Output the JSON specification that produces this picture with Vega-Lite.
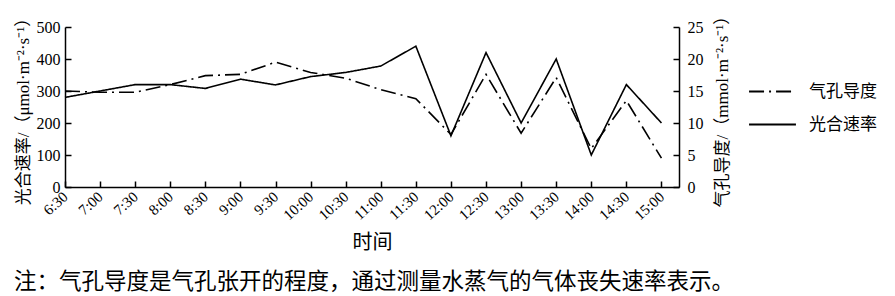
{
  "$schema": "https://vega.github.io/schema/vega-lite/v6.json",
  "width": 614,
  "height": 160,
  "autosize": "none",
  "padding": {"left": 65, "top": 27, "right": 216, "bottom": 109},
  "background": "white",
  "config": {
    "font": "Liberation Serif, Noto Sans CJK SC",
    "view": {"stroke": null},
    "axis": {"labelFont": "Liberation Serif", "titleFont": "Liberation Serif, Noto Sans CJK SC", "labelColor": "black", "titleColor": "black", "domainColor": "black", "tickColor": "black", "grid": false, "titleFontWeight": "normal", "domainWidth": 1.5, "tickWidth": 1.5}
  },
  "title": {"text": "注：气孔导度是气孔张开的程度，通过测量水蒸气的气体丧失速率表示。", "orient": "bottom", "anchor": "start", "frame": "bounds", "fontSize": 22.5, "fontWeight": "normal", "font": "Noto Sans CJK SC", "color": "black", "offset": 18},
  "data": {"values": [
    {"h": 6.5, "rate": 280, "cond": 15},
    {"h": 7, "rate": 300, "cond": 14.8},
    {"h": 7.5, "rate": 320, "cond": 14.8},
    {"h": 8, "rate": 320, "cond": 16},
    {"h": 8.5, "rate": 308, "cond": 17.4},
    {"h": 9, "rate": 337, "cond": 17.6},
    {"h": 9.5, "rate": 319, "cond": 19.5},
    {"h": 10, "rate": 345, "cond": 17.9},
    {"h": 10.5, "rate": 358, "cond": 17},
    {"h": 11, "rate": 378, "cond": 15.2},
    {"h": 11.5, "rate": 440, "cond": 13.8},
    {"h": 12, "rate": 160, "cond": 8.2},
    {"h": 12.5, "rate": 420, "cond": 17.6},
    {"h": 13, "rate": 200, "cond": 8.4},
    {"h": 13.5, "rate": 400, "cond": 17.1},
    {"h": 14, "rate": 100, "cond": 6},
    {"h": 14.5, "rate": 320, "cond": 13.5},
    {"h": 15, "rate": 200, "cond": 4.5}
  ]},
  "encoding": {
    "x": {"field": "h", "type": "quantitative", "scale": {"domain": [6.5, 15.25], "nice": false, "zero": false},
      "axis": {"title": "时间", "titleFontSize": 20, "titleFont": "Noto Sans CJK SC", "titlePadding": 10, "values": [6.5,7,7.5,8,8.5,9,9.5,10,10.5,11,11.5,12,12.5,13,13.5,14,14.5,15],
        "labelExpr": "floor(datum.value) + ':' + (datum.value % 1 ? '30' : '00')", "labelAngle": -42, "labelAlign": "right", "labelBaseline": "middle", "labelFontSize": 15, "labelDx": 6, "labelOverlap": false, "labelFlush": false, "labelBound": false, "tickSize": -6, "labelPadding": 13}}
  },
  "layer": [
    {
      "mark": {"type": "line", "color": "black", "strokeWidth": 1.6},
      "encoding": {
        "y": {"field": "rate", "type": "quantitative", "scale": {"domain": [0, 500]},
          "axis": {"orient": "left", "title": "光合速率/（μmol·m⁻²·s⁻¹）", "titleFontSize": 17, "values": [0,100,200,300,400,500], "labelFontSize": 16, "tickSize": -6, "labelPadding": 11, "titlePadding": 4}},
        "strokeDash": {"datum": "光合速率", "type": "nominal"}
      }
    },
    {
      "mark": {"type": "line", "color": "black", "strokeWidth": 1.6},
      "encoding": {
        "y": {"field": "cond", "type": "quantitative", "scale": {"domain": [0, 25]},
          "axis": {"orient": "right", "title": "气孔导度/（mmol·m⁻²·s⁻¹）", "titleFontSize": 17, "titleAngle": -90, "values": [0,5,10,15,20,25], "labelFontSize": 16, "tickSize": -6, "labelPadding": 14, "titlePadding": 28}},
        "strokeDash": {"datum": "气孔导度", "type": "nominal",
          "scale": {"domain": ["气孔导度", "光合速率"], "range": [[15, 5, 2, 5], [1, 0]]},
          "legend": {"title": null, "orient": "none", "legendX": 683, "legendY": 40, "symbolType": "stroke", "symbolSize": 2200, "symbolStrokeWidth": 2, "symbolStrokeColor": "black", "labelFontSize": 17, "labelFont": "Noto Sans CJK SC", "labelColor": "black", "rowPadding": -7, "labelOffset": 12}}
      }
    }
  ],
  "resolve": {"scale": {"y": "independent"}}
}
